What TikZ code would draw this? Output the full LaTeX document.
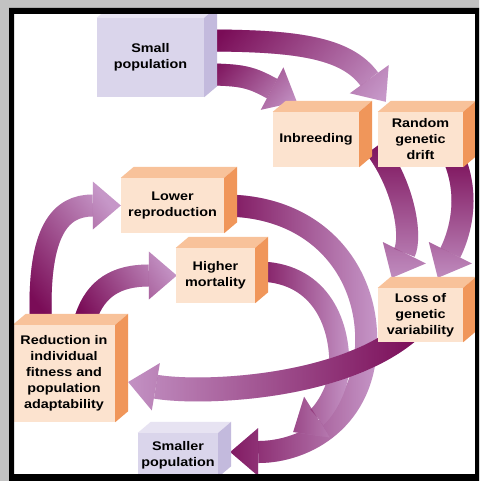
\documentclass[tikz,border=0pt]{standalone}
\usepackage{fontspec}
\setmainfont{Liberation Sans}[FakeStretch=1.15]
\usetikzlibrary{arrows.meta,calc,fadings}

\definecolor{framegray}{HTML}{C2C2C2}
\definecolor{peachfront}{HTML}{FCE3CF}
\definecolor{peachtop}{HTML}{F8C29A}
\definecolor{peachside}{HTML}{F0965A}
\definecolor{lavfront}{HTML}{DAD5EB}
\definecolor{lavtop}{HTML}{E7E3F2}
\definecolor{lavside}{HTML}{C3BADD}
\definecolor{flowdark}{HTML}{7A0C57}
\definecolor{flowlight}{HTML}{C697C8}

\tikzfading[name=fadeout, left color=transparent!0, right color=transparent!100]

\pgfdeclarelayer{back}
\pgfdeclarelayer{flows}
\pgfdeclarelayer{front}
\pgfsetlayers{back,flows,main,front}

\tikzset{
  block/.style={rectangle, fill=peachfront, inner sep=0pt, align=center,
    font=\bfseries\fontsize{12.5}{16}\selectfont},
  lavblock/.style={block, fill=lavfront},
  flow/.style={line width=22pt, draw=flowlight,
    -{Triangle[width=48pt,length=28pt,line width=0pt]},
    postaction={draw=flowdark, path fading=fadeout, fading angle=#1}},
}

\newcommand{\boxsides}[3]{%
  \fill[#2] (#1.north west) -- (#1.north east) -- ++(13,-11) -- ($(#1.north west)+(13,-11)$) -- cycle;
  \fill[#3] (#1.north east) -- ++(13,-11) -- ($(#1.south east)+(13,-11)$) -- (#1.south east) -- cycle;
}

\begin{document}
\begin{tikzpicture}[x=1pt,y=-1pt]
\useasboundingbox (0,0) rectangle (479,481);
\begin{pgfonlayer}{back}
\fill[white] (14,14) rectangle (475,474);
\end{pgfonlayer}

\node (small) at (150.5,57.5) [lavblock, minimum width=107pt, minimum height=79pt] {Small\\population};
\node (inbreed) at (316,139.5) [block, minimum width=86pt, minimum height=55pt] {Inbreeding};
\node (drift) at (420.5,139.5) [block, minimum width=85pt, minimum height=55pt] {Random\\genetic\\drift};
\node (lowrep) at (172.5,205.5) [block, minimum width=103pt, minimum height=55pt] {Lower\\reproduction};
\node (highmort) at (215.5,275.5) [block, minimum width=79pt, minimum height=55pt] {Higher\\mortality};
\node (loss) at (420.5,315) [block, minimum width=85pt, minimum height=54pt] {Loss of\\genetic\\variability};
\node (reduce) at (64,373.5) [block, minimum width=102pt, minimum height=97pt] {Reduction in\\individual\\fitness and\\population\\adaptability};
\node (smaller) at (178,455) [lavblock, minimum width=80pt, minimum height=44pt] {Smaller\\population};

\boxsides{small}{lavtop}{lavside}
\boxsides{inbreed}{peachtop}{peachside}
\boxsides{drift}{peachtop}{peachside}
\boxsides{lowrep}{peachtop}{peachside}
\boxsides{highmort}{peachtop}{peachside}
\boxsides{loss}{peachtop}{peachside}
\boxsides{reduce}{peachtop}{peachside}
\boxsides{smaller}{lavtop}{lavside}

\begin{pgfonlayer}{flows}
\draw[flow=-20] ($(small.east)+(0,-17)$) .. controls +(90,0) and +(-40,-55) .. ($(drift.north west)+(8,-10)$);
\draw[flow=-20] ($(small.east)+(0,17)$) .. controls +(40,0) and +(-45,-24) .. ($(inbreed.north west)+(24,-10)$);
\draw[flow=-90] ($(inbreed.east)+(16,8)$) .. controls +(30,40) and +(20,-40) .. ($(loss.north west)+(14,-10)$);
\draw[flow=-90] ($(drift.south)+(35,-5)$) .. controls +(15,40) and +(20,-40) .. ($(loss.north west)+(60,-10)$);
\draw[flow=45] ($(reduce.north west)+(28,-5)$) .. controls +(-3,-90) and +(-60,0) .. (lowrep.west);
\draw[flow=20] ($(reduce.north west)+(73,-7)$) .. controls +(10,-30) and +(-60,0) .. ($(highmort.west)+(1,0)$);
\draw[flow=0] (lowrep.east) .. controls +(92,0) and +(0,-70) .. ++(142,134) .. controls +(0,80) and +(75,0) .. ($(smaller.east)+(12,-3)$);
\draw[flow=0, line width=20pt] ($(highmort.east)+(2,-4)$) .. controls +(60,0) and +(2,-50) .. ++(82,98) .. controls +(-2,25) and +(27,-17) .. ($(smaller.east)+(75,-23)$);
\draw[flow=180, line width=24pt] ($(loss.south west)+(32,-12)$) .. controls +(-70,60) and +(70,12) .. ($(reduce.east)+(13,8.5)$);
\end{pgfonlayer}

\begin{pgfonlayer}{front}
\fill[framegray, even odd rule] (0,0) rectangle (479,481) (9,8) rectangle (479,481);
\fill[black, even odd rule] (9,8) rectangle (479,481) (14,14) rectangle (475,474);
\end{pgfonlayer}
\end{tikzpicture}
\end{document}
